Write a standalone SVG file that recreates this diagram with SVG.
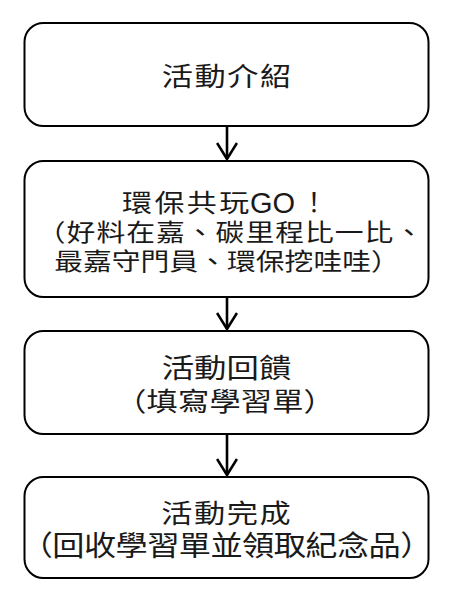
<svg xmlns="http://www.w3.org/2000/svg" width="464" height="600" viewBox="0 0 464 600">
  <style>
    .box { fill: #ffffff; stroke: #000000; stroke-width: 2; }
    .t { font-family: "Noto Sans CJK TC", "Noto Sans CJK SC", sans-serif; fill: #1a1a1a; text-anchor: middle; }
    .ts { font-family: "Noto Sans CJK TC", "Noto Sans CJK SC", sans-serif; fill: #1a1a1a; text-anchor: start; }
    .lat { font-family: "Liberation Sans", Arial, sans-serif; fill: #1a1a1a; }
    .conn { stroke: #000000; stroke-width: 2.6; fill: none; }
  </style>
  <defs>
    <marker id="arrow" markerUnits="userSpaceOnUse" viewBox="-17 -11 19 22" markerWidth="19" markerHeight="22" refX="0" refY="0" orient="auto">
      <path d="M-16,-10 L0,0 L-16,10" fill="none" stroke="#000000" stroke-width="2.6"/>
    </marker>
  </defs>
  <rect width="464" height="600" fill="#ffffff"/>

  <g id="connectors">
    <line class="conn" x1="227" y1="127" x2="227" y2="159" marker-end="url(#arrow)"/>
    <line class="conn" x1="227" y1="298" x2="227" y2="329" marker-end="url(#arrow)"/>
    <line class="conn" x1="227" y1="435" x2="227" y2="475" marker-end="url(#arrow)"/>
  </g>

  <g id="node1">
    <rect class="box" x="24.5" y="23" width="404" height="103" rx="19" ry="19"/>
    <text class="t" transform="translate(226.5,86) scale(1.2,1)" font-size="26" textLength="108" lengthAdjust="spacing">活動介紹</text>
  </g>

  <g id="node2">
    <rect class="box" x="24.5" y="161" width="404" height="136" rx="19" ry="19"/>
    <text class="ts" transform="translate(122,212) scale(1.2,1)" font-size="25" textLength="106" lengthAdjust="spacing">環保共玩</text>
    <text class="lat" x="250" y="213" font-size="29">GO</text>
    <text class="t" x="314" y="212" font-size="26">！</text>
    <text class="t" transform="translate(230,241) scale(1.2,1)" font-size="24" textLength="322" lengthAdjust="spacing">（好料在嘉、碳里程比一比、</text>
    <text class="t" transform="translate(227,270) scale(1.2,1)" font-size="24" textLength="288" lengthAdjust="spacing">最嘉守門員、環保挖哇哇）</text>
  </g>

  <g id="node3">
    <rect class="box" x="24.5" y="331" width="404" height="103" rx="19" ry="19"/>
    <text class="t" transform="translate(226.5,378) scale(1.2,1)" font-size="27" textLength="108" lengthAdjust="spacing">活動回饋</text>
    <text class="t" transform="translate(225,411) scale(1.2,1)" font-size="26" textLength="183" lengthAdjust="spacing">（填寫學習單）</text>
  </g>

  <g id="node4">
    <rect class="box" x="24.5" y="477" width="404" height="101" rx="19" ry="19"/>
    <text class="t" transform="translate(226,523) scale(1.2,1)" font-size="26" textLength="108" lengthAdjust="spacing">活動完成</text>
    <text class="t" transform="translate(226.5,556) scale(1.15,1)" font-size="28" textLength="358" lengthAdjust="spacing">（回收學習單並領取紀念品）</text>
  </g>
</svg>
